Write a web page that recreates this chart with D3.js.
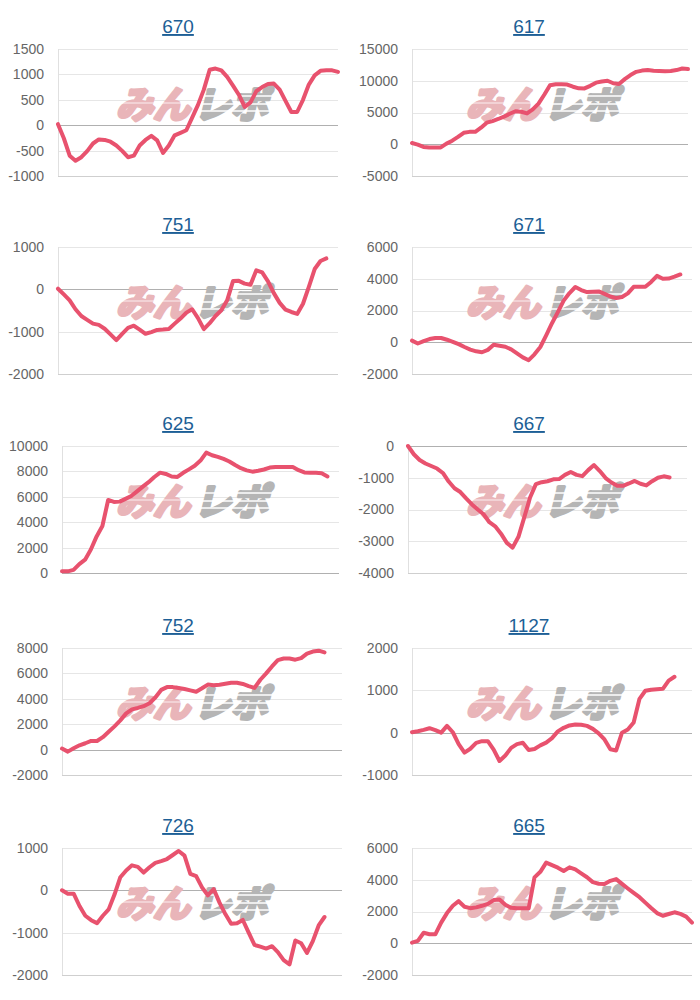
<!DOCTYPE html>
<html>
<head>
<meta charset="utf-8">
<script src="https://cdn.jsdelivr.net/npm/d3@7"></script>
<style>
  html, body { margin: 0; padding: 0; background: #fff; }
  svg { display: block; }
</style>
</head>
<body>
<svg id="chart" width="700" height="1000"></svg>
<script>
// ---------- DATA ----------
const chartTitles = ["670", "617", "751", "671", "625", "667", "752", "1127", "726", "665"];
const slotCount = 49; // x-axis category slots per chart

const series670 = [20,-257,-600,-700,-630,-510,-360,-280,-290,-325,-400,-505,-630,-600,-400,-290,-210,-300,-545,-400,-200,-150,-100,150,400,700,1090,1115,1080,950,780,600,360,450,670,750,810,820,700,480,260,260,500,800,980,1070,1080,1080,1050];
const series617 = [200,-50,-420,-520,-530,-500,100,560,1150,1800,1950,1950,2600,3400,3650,3980,4350,4800,5200,5120,4850,5500,6400,7800,9300,9450,9450,9400,9060,8800,8790,9200,9700,9880,10000,9600,9500,10250,10900,11400,11600,11680,11580,11520,11480,11550,11680,11920,11850];
const series751 = [15,-120,-260,-470,-630,-720,-810,-840,-930,-1065,-1200,-1050,-910,-860,-950,-1050,-1010,-960,-950,-935,-810,-690,-550,-470,-680,-940,-800,-630,-495,-260,195,200,135,110,450,400,190,-90,-320,-480,-535,-580,-340,60,480,670,730];
const series671 = [100,-80,70,200,270,270,160,30,-120,-300,-460,-570,-630,-480,-160,-220,-280,-450,-700,-950,-1130,-760,-300,430,1200,1900,2620,3100,3480,3290,3160,3180,3200,3050,2880,2780,2850,3080,3490,3490,3490,3800,4180,4000,4010,4130,4270];
const series625 = [130,130,250,700,1050,1850,2880,3700,5750,5600,5620,5840,6060,6430,6800,7150,7560,7900,7800,7600,7560,7890,8160,8440,8850,9480,9270,9140,8980,8780,8500,8250,8080,7980,8050,8150,8300,8350,8350,8350,8350,8100,7920,7890,7890,7850,7600];
const series667 = [0,-260,-440,-550,-630,-710,-850,-1120,-1330,-1450,-1650,-1840,-2000,-2150,-2400,-2530,-2760,-3050,-3200,-2860,-2250,-1620,-1200,-1140,-1110,-1050,-1040,-910,-820,-910,-950,-760,-600,-790,-1010,-1150,-1255,-1255,-1180,-1100,-1190,-1240,-1110,-1000,-955,-990];
const series752 = [80,-160,110,340,500,680,680,980,1400,1830,2300,2850,3170,3280,3420,3650,4100,4700,4920,4920,4850,4770,4660,4560,4830,5120,5060,5100,5180,5260,5260,5170,5000,4860,5500,6000,6550,7050,7170,7170,7080,7200,7560,7720,7790,7650];
const series1127 = [10,35,65,105,60,0,160,10,-270,-470,-380,-240,-200,-200,-400,-670,-540,-360,-270,-240,-410,-385,-300,-235,-130,30,115,170,195,185,160,90,-15,-160,-390,-420,0,75,240,800,990,1015,1025,1035,1230,1320];
const series726 = [0,-80,-80,-370,-600,-705,-775,-600,-450,-100,310,470,590,555,420,545,650,690,740,835,930,820,390,335,70,-120,30,-290,-560,-790,-780,-700,-1000,-1290,-1330,-1375,-1320,-1460,-1650,-1750,-1185,-1250,-1480,-1200,-830,-630];
const series665 = [40,150,660,570,565,1300,1900,2360,2650,2300,2210,2260,2360,2480,2720,2760,2420,2230,2200,2200,2200,4150,4500,5080,4920,4760,4550,4780,4650,4400,4160,3850,3750,3730,3930,4040,3740,3450,3170,2900,2560,2220,1900,1730,1840,1950,1850,1680,1300];

const ticks670 = [-1000, -500, 0, 500, 1000, 1500];
const ticks617 = [-5000, 0, 5000, 10000, 15000];
const ticks751 = [-2000, -1000, 0, 1000];
const ticks671 = [-2000, 0, 2000, 4000, 6000];
const ticks625 = [0, 2000, 4000, 6000, 8000, 10000];
const ticks667 = [-4000, -3000, -2000, -1000, 0];
const ticks752 = [-2000, 0, 2000, 4000, 6000, 8000];
const ticks1127 = [-1000, 0, 1000, 2000];
const ticks726 = [-2000, -1000, 0, 1000];
const ticks665 = [-2000, 0, 2000, 4000, 6000];

const allSeries = [series670, series617, series751, series671, series625, series667, series752, series1127, series726, series665];
const allTicks = [ticks670, ticks617, ticks751, ticks671, ticks625, ticks667, ticks752, ticks1127, ticks726, ticks665];

// ---------- LAYOUT ----------
const rowTop = [0, 198, 397, 599, 799];
const plotLeft = [58, 412, 58, 412, 62, 408, 62, 412, 62, 412];
const plotRight = [338, 688, 338, 692, 339, 687, 342, 692, 342, 692];
const titleCenter = [178, 529];

const svg = d3.select("#chart");
const lineColor = "#e8526e";

allSeries.forEach((vals, i) => {
  const col = i % 2, row = Math.floor(i / 2);
  const px = col * 350, py = rowTop[row];
  const top = py + 49, bottom = py + 176;
  const left = plotLeft[i], right = plotRight[i];
  const ticks = allTicks[i];

  const x = d3.scaleLinear().domain([0, slotCount - 1]).range([left, right]);
  const y = d3.scaleLinear().domain(d3.extent(ticks)).range([bottom, top]);

  const g = svg.append("g");

  // title
  g.append("text")
    .attr("x", titleCenter[col])
    .attr("y", py + 33)
    .attr("text-anchor", "middle")
    .attr("font-family", "Liberation Sans, Arial, sans-serif")
    .attr("font-size", 19)
    .attr("fill", "#1d5f96")
    .style("text-decoration", "underline")
    .text(chartTitles[i]);

  // y axis via d3.axisLeft
  const axis = d3.axisLeft(y).tickValues(ticks).tickSize(0).tickPadding(14).tickFormat(d => String(d));
  const ag = g.append("g").attr("transform", `translate(${left},0)`).call(axis);
  ag.select(".domain").remove();
  ag.selectAll("text")
    .attr("font-family", "Liberation Sans, Arial, sans-serif")
    .attr("font-size", 14)
    .attr("fill", "#666");

  // gridlines
  g.append("g").selectAll("line").data(ticks).join("line")
    .attr("x1", left).attr("x2", right)
    .attr("y1", d => Math.round(y(d)) + 0.5).attr("y2", d => Math.round(y(d)) + 0.5)
    .attr("stroke", d => d === 0 ? "#b0b0b0" : (d === ticks[0] ? "#cfcfcf" : "#e6e6e6"))
    .attr("stroke-width", 1);

  // left vertical axis line
  g.append("line")
    .attr("x1", left + 0.5).attr("x2", left + 0.5)
    .attr("y1", top).attr("y2", bottom)
    .attr("stroke", "#e0e0e0");

  // watermark
  const wm = g.append("g").attr("transform", `translate(${px + 116},${py + 118}) skewX(-14)`);
  const wt = wm.append("text")
    .attr("font-family", "Noto Sans CJK JP, sans-serif")
    .attr("font-weight", 700)
    .attr("font-size", 37)
    .attr("stroke-linejoin", "round");
  wt.append("tspan").attr("fill", "#e9b5b9").attr("stroke", "#e9b5b9").attr("stroke-width", 3.5).text("みん");
  wt.append("tspan").attr("fill", "#b5b5b5").attr("stroke", "#b5b5b5").attr("stroke-width", 3.5).attr("dx", 4).text("レポ");
  // speed stripes
  [-22, -14, -7].forEach(dy => {
    wm.append("line").attr("x1", 80).attr("x2", 162).attr("y1", dy).attr("y2", dy)
      .attr("stroke", "#fff").attr("stroke-width", 1.6);
  });
  wm.append("line").attr("x1", 0).attr("x2", 78).attr("y1", -15).attr("y2", -15)
    .attr("stroke", "#fff").attr("stroke-width", 1.2).attr("stroke-opacity", 0.8);

  // data line
  const line = d3.line().x((d, k) => x(k)).y(d => y(d));
  g.append("path")
    .datum(vals)
    .attr("d", line)
    .attr("fill", "none")
    .attr("stroke", lineColor)
    .attr("stroke-width", 4)
    .attr("stroke-linejoin", "round")
    .attr("stroke-linecap", "round");
});
</script>
</body>
</html>
